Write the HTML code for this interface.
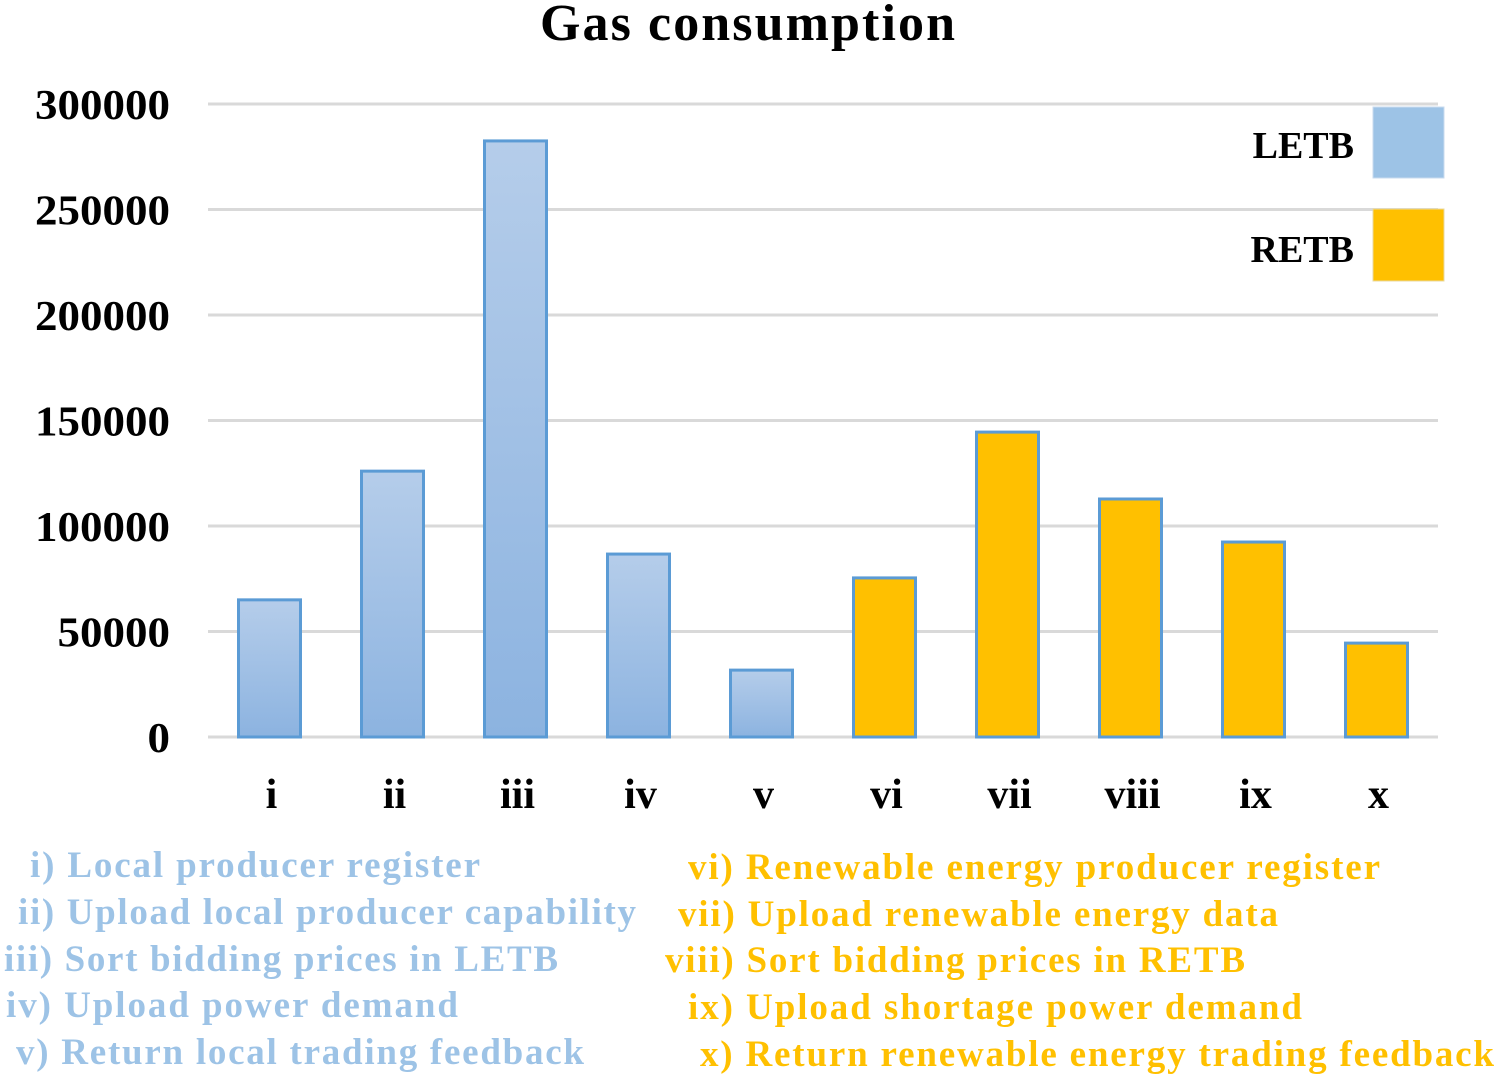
<!DOCTYPE html>
<html><head><meta charset="utf-8"><style>
html,body{margin:0;padding:0;background:#fff;}
svg{display:block;font-family:"Liberation Serif",serif;font-weight:bold;}
</style></head><body>
<svg id="chart" width="1500" height="1078" viewBox="0 0 1500 1078">
<defs><linearGradient id="bg" x1="0" y1="0" x2="0" y2="1"><stop offset="0" stop-color="#b5cdea"/><stop offset="1" stop-color="#8cb3e0"/></linearGradient></defs>
<text x="540" y="40" textLength="415" font-size="52" fill="#000">Gas consumption</text>
<g id="grid"></g><g id="bars"></g><g id="xlabels"></g>
<g>
<text x="1354" y="158" text-anchor="end" font-size="38">LETB</text>
<rect x="1373" y="107" width="71" height="71" fill="#9dc3e6" stroke="#c9dbef"/>
<text x="1354" y="262" text-anchor="end" font-size="38">RETB</text>
<rect x="1373" y="209" width="71" height="72" fill="#ffc000" stroke="#e8d9a0"/>
</g>
<g font-size="37">
<text x="30" y="877" textLength="450" fill="#9dc3e6">i) Local producer register</text>
<text x="18" y="924" textLength="618" fill="#9dc3e6">ii) Upload local producer capability</text>
<text x="4" y="971" textLength="554" fill="#9dc3e6">iii) Sort bidding prices in LETB</text>
<text x="6" y="1017" textLength="452" fill="#9dc3e6">iv) Upload power demand</text>
<text x="16" y="1064" textLength="568" fill="#9dc3e6">v) Return local trading feedback</text>
<text x="688" y="879" textLength="692" fill="#ffc000">vi) Renewable energy producer register</text>
<text x="678" y="926" textLength="600" fill="#ffc000">vii) Upload renewable energy data</text>
<text x="665" y="972" textLength="580" fill="#ffc000">viii) Sort bidding prices in RETB</text>
<text x="688" y="1019" textLength="614" fill="#ffc000">ix) Upload shortage power demand</text>
<text x="700" y="1066" textLength="794" fill="#ffc000">x) Return renewable energy trading feedback</text>
</g>
</svg>
<script>
const categories=["i","ii","iii","iv","v","vi","vii","viii","ix","x"];
const series=["LETB","LETB","LETB","LETB","LETB","RETB","RETB","RETB","RETB","RETB"];
const values=[65000,126000,282500,86700,31700,75400,144500,112800,92400,44500];
const yTicks=[0,50000,100000,150000,200000,250000,300000];
const NS="http://www.w3.org/2000/svg";
const x0=208,x1=1438,y0=737,y1=104,yMax=300000;
const band=(x1-x0)/categories.length;
function yS(v){return y0-(v/yMax)*(y0-y1);}
function xS(i){return x0+band*(i+0.5);}
function mk(t,a,p){const e=document.createElementNS(NS,t);for(const k in a)e.setAttribute(k,a[k]);p.appendChild(e);return e;}
const grid=document.getElementById('grid'),bars=document.getElementById('bars'),xl=document.getElementById('xlabels');
yTicks.forEach(v=>{
const l=mk('line',{x1:x0,x2:x1,y1:yS(v),y2:yS(v),stroke:'#d9d9d9','stroke-width':3},grid);


const s=String(v);
const w=s.length*22.5;
const t=mk('text',{x:170-w,y:yS(v)+15,'font-size':42,textLength:w,lengthAdjust:'spacingAndGlyphs'},grid);
t.textContent=s;


});
categories.forEach((c,i)=>{
const w=62;
const r=mk('rect',{x:xS(i)-w/2,y:yS(values[i]),width:w,height:y0-yS(values[i]),fill:series[i]==="LETB"?'url(#bg)':'#ffc000',stroke:'#5b9bd5','stroke-width':3},bars);


const t=mk('text',{x:xS(i)+2,y:808,'text-anchor':'middle','font-size':42},xl);
t.textContent=c;


});
</script>
</body></html>
